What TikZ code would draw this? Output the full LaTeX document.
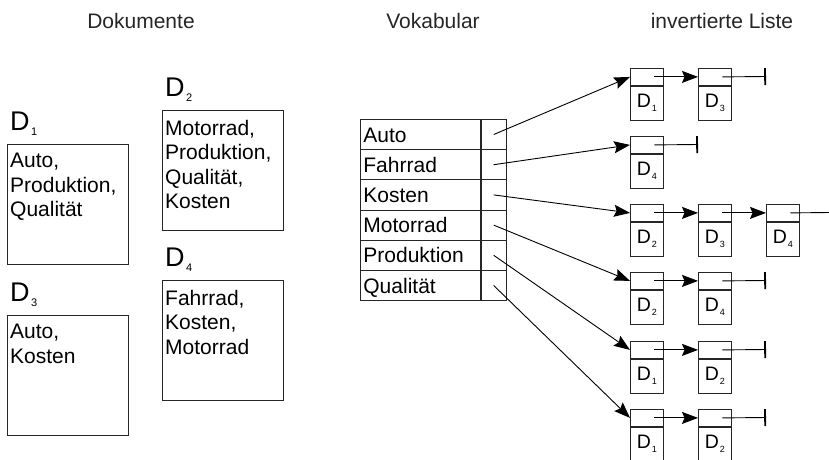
\documentclass[tikz,border=0pt]{standalone}
\usepackage{fontspec}
\setmainfont{Liberation Sans}
\usetikzlibrary{arrows.meta}

% document label: large D with a lowered index
\newcommand{\DocLabel}[1]{{\fontsize{27}{27}\selectfont D\kern1.5pt\raisebox{-5pt}{\fontsize{11}{11}\selectfont #1}}}
% label inside a list cell
\newcommand{\CellLabel}[1]{{\fontsize{19.5}{19.5}\selectfont D\kern1pt\raisebox{-4pt}{\fontsize{9}{9}\selectfont #1}}}

\tikzset{
  frame/.style={draw=black!85, line width=0.8pt},
  title/.style={anchor=base, inner sep=0, font=\fontsize{21}{21}\selectfont, text=black!85},
  docbox/.style={frame, anchor=north west, minimum width=121pt, minimum height=120pt, inner sep=0},
  doctext/.style={anchor=north west, inner sep=0, align=left, font=\fontsize{21}{24.5}\selectfont},
  doclabel/.style={anchor=base west, inner sep=0},
  word/.style={frame, anchor=north west, text width=114pt, inner xsep=3pt, inner ysep=0,
    minimum height=30.2pt, align=left, text height=15pt, text depth=0pt,
    font=\fontsize{21}{21}\selectfont},
  wordptr/.style={frame, anchor=west, minimum width=25pt, minimum height=30.2pt, inner sep=0},
  cellptr/.style={frame, anchor=north west, minimum width=33pt, minimum height=17pt, inner sep=0},
  celldoc/.style={frame, anchor=north, minimum width=33pt, minimum height=34pt, inner sep=0},
  link/.style={line width=0.9pt, -{Stealth[length=16pt,width=12pt,inset=2.5pt]}},
  nil/.style={line width=0.9pt, -{Bar[width=17pt,line width=1.8pt]}},
  tail/.style={line width=0.9pt},
}

% one cell of an inverted list: pointer field on top, document below
\newcommand{\ListCell}[4]{%
  \node[cellptr] (#1) at (#2,#3) {};
  \node[celldoc] (#1-d) at (#1.south) {\CellLabel{#4}};
  \coordinate (#1-s) at ([xshift=7.5pt]#1.center);
}

\begin{document}
\begin{tikzpicture}[x=1pt, y=-1pt]
\useasboundingbox (0,0) rectangle (829,459);

% column headings
\node[title] (hdoc) at (141,28) {Dokumente};
\node[title] (hvoc) at (433,28) {Vokabular};
\node[title] (hinv) at (722,28) {invertierte Liste};

% documents
\node[docbox] (d1) at (7,144) {};
\node[docbox] (d2) at (162,110) {};
\node[docbox] (d3) at (7,315) {};
\node[docbox] (d4) at (162,280) {};
\foreach \d/\n in {d1/1, d2/2, d3/3, d4/4}
  \node[doclabel] (\d-l) at ([xshift=3pt, yshift=14pt]\d.north west) {\DocLabel{\n}};
\node[doctext] (d1-t) at ([xshift=3pt, yshift=-9pt]d1.north west) {Auto,\\Produktion,\\Qualität};
\node[doctext] (d2-t) at ([xshift=3pt, yshift=-10pt]d2.north west) {Motorrad,\\Produktion,\\Qualität,\\Kosten};
\node[doctext] (d3-t) at ([xshift=3pt, yshift=-9pt]d3.north west) {Auto,\\Kosten};
\node[doctext] (d4-t) at ([xshift=3pt, yshift=-10pt]d4.north west) {Fahrrad,\\Kosten,\\Motorrad};

% vocabulary table
\foreach \w [count=\i] in {Auto, Fahrrad, Kosten, Motorrad, Produktion, Qualität} {
  \node[word] (w\i) at (360, {119 + 30.2*(\i-1)}) {\w};
  \node[wordptr] (p\i) at (w\i.east) {};
}

% inverted lists
\ListCell{a1}{630}{68}{1}   \ListCell{a2}{698}{68}{3}
\ListCell{b1}{630}{136}{4}
\ListCell{c1}{630}{204}{2}  \ListCell{c2}{698}{204}{3}  \ListCell{c3}{766}{204}{4}
\ListCell{e1}{630}{272}{2}  \ListCell{e2}{698}{272}{4}
\ListCell{f1}{630}{341}{1}  \ListCell{f2}{698}{341}{2}
\ListCell{g1}{630}{409}{1}  \ListCell{g2}{698}{409}{2}

% list ends
\coordinate (a-end) at (766,76.5);
\coordinate (b-end) at (698,144.5);
\coordinate (c-end) at (829,212.5);
\coordinate (e-end) at (766,280.5);
\coordinate (f-end) at (766,349.5);
\coordinate (g-end) at (766,417.5);

% vocabulary entries point to the heads of the lists
\draw[link] (p1.center) -- (a1.west);
\draw[link] (p2.center) -- (b1.west);
\draw[link] (p3.center) -- (c1.west);
\draw[link] (p4.center) -- (e1.west);
\draw[link] (p5.center) -- (f1.west);
\draw[link] (p6.center) -- (g1.west);

% links between list cells
\draw[link] (a1-s) -- (a2.west);
\draw[nil]  (a2-s) -- (a-end);
\draw[nil]  (b1-s) -- (b-end);
\draw[link] (c1-s) -- (c2.west);
\draw[link] (c2-s) -- (c3.west);
\draw[tail] (c3-s) -- (c-end);
\draw[link] (e1-s) -- (e2.west);
\draw[nil]  (e2-s) -- (e-end);
\draw[link] (f1-s) -- (f2.west);
\draw[nil]  (f2-s) -- (f-end);
\draw[link] (g1-s) -- (g2.west);
\draw[nil]  (g2-s) -- (g-end);
\end{tikzpicture}
\end{document}
